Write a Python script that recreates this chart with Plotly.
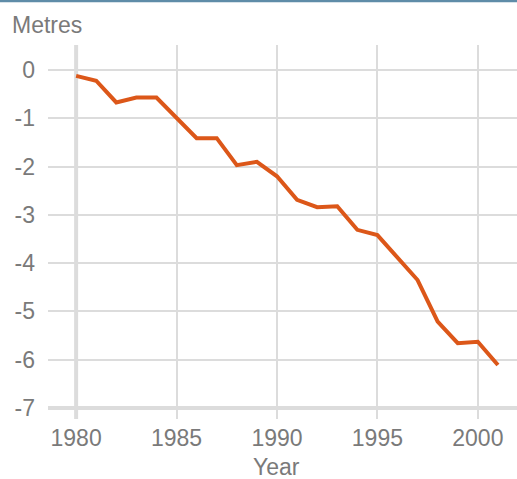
import plotly.graph_objects as go

years = list(range(1980, 2002))
metres = [-0.12, -0.22, -0.67, -0.57, -0.57, -0.99, -1.41, -1.41, -1.97, -1.90,
          -2.20, -2.69, -2.84, -2.82, -3.31, -3.42, -3.87, -4.35, -5.21, -5.66,
          -5.63, -6.11]
x_ticks = [1980, 1985, 1990, 1995, 2000]
y_ticks = [0, -1, -2, -3, -4, -5, -6, -7]

W, H = 517, 479
L, R, T, B = 48, 0, 45, 60
ph = H - T - B

grid = "#dcdcdc"
text = "#7a7a7a"
font = "Liberation Sans, Arial, sans-serif"

fig = go.Figure()
fig.add_trace(go.Scatter(x=years, y=metres, mode="lines",
                         line=dict(color="#dc5719", width=4),
                         hoverinfo="skip", showlegend=False))

# thicker axis lines at the first x tick and last y tick
fig.add_shape(type="line", xref="x", yref="paper", x0=x_ticks[0], x1=x_ticks[0],
              y0=0, y1=1, line=dict(color=grid, width=4), layer="below")
fig.add_shape(type="line", xref="paper", yref="y", x0=0, x1=1,
              y0=y_ticks[-1], y1=y_ticks[-1], line=dict(color=grid, width=4), layer="below")
# top border
fig.add_shape(type="line", xref="paper", yref="paper", x0=-L / (W - L), x1=1.05,
              y0=1 + (T - 1) / ph, y1=1 + (T - 1) / ph,
              line=dict(color="#5f8ca8", width=2.5))

fig.add_annotation(text="Year", xref="x", yref="paper", x=1990, y=-(467 - (T + ph)) / ph,
                   showarrow=False, font=dict(family=font, size=23, color=text),
                   xanchor="center", yanchor="middle")

fig.update_layout(
    width=W, height=H,
    margin=dict(l=L, r=R, t=T, b=B),
    paper_bgcolor="white", plot_bgcolor="white",
    title=dict(text="Metres", x=12 / W, xref="container", xanchor="left",
               y=1 - 25 / H, yref="container", yanchor="middle",
               font=dict(family=font, size=23, color=text)),
    xaxis=dict(range=[1978.6, 2001.95], tickvals=x_ticks, ticktext=[str(v) for v in x_ticks],
               showgrid=True, gridcolor=grid, gridwidth=2, zeroline=False, showline=False,
               ticks="", tickfont=dict(family=font, size=23, color=text), ticklabelstandoff=3),
    yaxis=dict(range=[-7.23, 0.52], tickvals=y_ticks, ticktext=[str(v) for v in y_ticks],
               showgrid=True, gridcolor=grid, gridwidth=2, zeroline=False, showline=False,
               ticks="", tickfont=dict(family=font, size=23, color=text), ticklabelstandoff=12),
)

fig.write_html("out.html", config={"displayModeBar": False},
               post_script="document.body.style.margin='0';")
